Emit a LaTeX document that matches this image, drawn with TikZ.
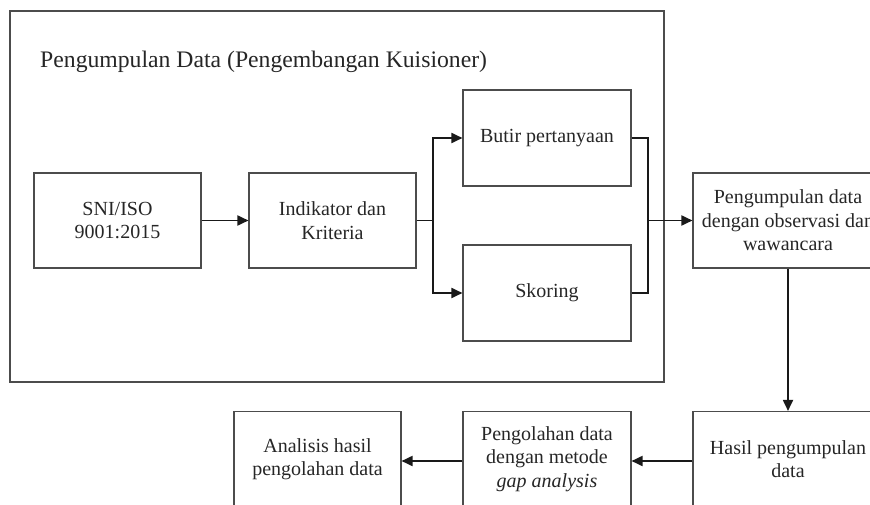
\documentclass[tikz,border=0pt]{standalone}
\usepackage{fontspec}
\setmainfont{Liberation Serif}
\usetikzlibrary{arrows.meta}
\begin{document}
\begin{tikzpicture}[x=1pt,y=-1pt,
  box/.style={draw=black!70, line width=1.1pt, minimum width=167pt, minimum height=95pt, align=center, inner sep=0pt, font=\fontsize{20}{23.5}\selectfont, text=black!85},
  conn/.style={line width=1.8pt, black!90, -{Triangle[length=11pt,width=10pt]}},
  plain/.style={line width=1.8pt, black!90}]
\useasboundingbox (0,0) rectangle (870,505);
\clip (0,0) rectangle (870,505);
\node[draw=black!70, line width=1.1pt, minimum width=654pt, minimum height=371pt, inner sep=0pt] (frame) at (337,196.5) {};
\node[anchor=west, font=\fontsize{23.7}{28}\selectfont, text=black!85, inner sep=0pt] (title) at (40,62) {Pengumpulan Data (Pengembangan Kuisioner)};
\node[box] (sni) at (117.5,220.5) {SNI/ISO\\9001:2015};
\node[box] (ind) at (332.5,220.5) {Indikator dan\\Kriteria};
\node[box, minimum width=168pt, minimum height=96pt] (but) at (547,138) {Butir pertanyaan};
\node[box, minimum width=168pt, minimum height=96pt] (sko) at (547,293) {Skoring};
\node[box, minimum width=190pt] (pd) at (788,220.5) {Pengumpulan data\\dengan observasi dan\\wawancara};
\node[box, minimum width=190pt] (has) at (788,459) {Hasil pengumpulan\\data};
\node[box, minimum width=168pt] (peng) at (547,459) {Pengolahan data\\dengan metode\\\textit{gap analysis}};
\node[box] (ana) at (317.5,459) {Analisis hasil\\pengolahan data};
\coordinate (split) at (433,220.5);
\coordinate (join) at (648,220.5);
\draw[conn] (sni) -- (ind);
\draw[plain] (ind.east) -- (split);
\draw[conn] (split) |- (but.west);
\draw[conn] (split) |- (sko.west);
\draw[plain] (but.east) -| (join);
\draw[plain] (sko.east) -| (join);
\draw[conn] (join) -- (pd.west);
\draw[conn] (pd.south) -- (has.north);
\draw[conn] (has.west |- 461,461) -- (peng.east |- 461,461);
\draw[conn] (peng.west |- 461,461) -- (ana.east |- 461,461);
\end{tikzpicture}
\end{document}
